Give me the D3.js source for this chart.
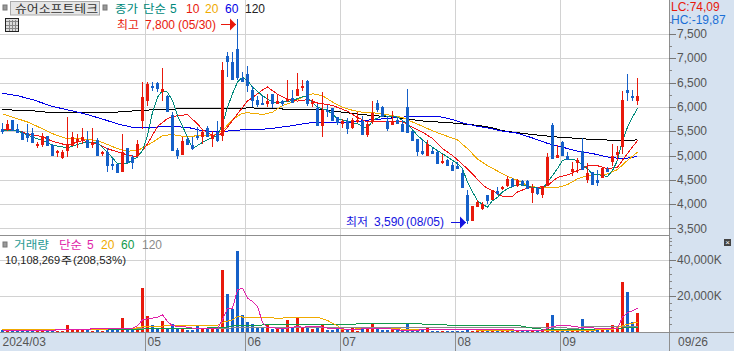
<!DOCTYPE html>
<html>
<head>
<meta charset="utf-8">
<script src="https://cdn.jsdelivr.net/npm/d3@7"></script>
<style>
html, body { margin: 0; padding: 0; background: #fff; }
svg { display: block; }
text { font-family: "Liberation Sans", sans-serif; font-size: 12px; }
.kr { font-family: "Noto Sans CJK KR", sans-serif; font-size: 11px; }
.axis .domain { display: none; }
.axis text { fill: #555; font-size: 12px; }
</style>
</head>
<body>
<div id="chart"></div>
<script>
// candles, left to right, one trading day each
const open = [5550,5540,5740,5540,5460,5460,5470,5200,5210,5400,5220,5050,4940,5100,5190,5270,5320,5310,5210,5310,5040,5070,4830,4820,4670,5150,4970,4990,5700,6130,6420,6500,6300,6230,5840,5120,5020,5330,5220,5410,5380,5560,5330,5480,5410,7040,6930,7200,6600,6670,6340,6150,6080,6060,6260,6060,6120,6150,6190,6230,6410,6540,6060,5980,5600,5940,5970,5790,5650,5720,5560,5700,5720,5430,5690,6080,5990,5710,5620,5740,5650,5990,5500,5330,5100,4990,5100,5070,4860,4900,4810,4780,4650,4180,3650,3950,3890,4180,4090,4270,4350,4380,4510,4370,4470,4470,4220,4340,4180,4380,5620,4940,5270,4980,4670,4840,5100,4490,4670,4490,4540,4730,4860,5010,5170,6340,6230,6130];
const close = [5480,5650,5500,5460,5320,5370,5250,5230,5410,5190,5000,5090,5070,5240,5390,5340,5390,5150,5270,5000,5070,4790,4810,4640,5080,4850,4840,5230,6210,6480,6390,6370,6370,5890,5100,4990,5290,5210,5140,5400,5490,5390,5410,5290,6750,6920,6560,6600,6510,6420,6130,6030,6060,6130,6050,6120,6060,6170,6080,6360,6420,6050,6100,5600,5940,5890,5720,5660,5700,5550,5730,5730,5430,5640,5880,5930,5800,5550,5700,5640,5480,5470,5290,5080,5040,5240,5040,4830,4880,4780,4690,4730,4340,3660,3970,4040,4010,4070,4280,4200,4360,4520,4350,4490,4400,4320,4340,4210,4380,4970,4920,5020,4990,4900,4730,4910,4710,4640,4400,4430,4750,4670,5000,5070,6150,6280,6200,6230];
const high = [5660,5730,5740,5650,5510,5640,5570,5270,5460,5400,5240,5120,5120,5800,5490,5450,5570,5500,5570,5360,5100,5150,4940,4820,5450,5160,5010,5310,6520,6520,6520,6510,6800,6250,5890,5150,5390,5390,5390,5580,5550,5600,5510,5720,6920,7130,7130,7800,6710,6850,6440,6230,6230,6270,6260,6270,6150,6560,6350,6700,6560,6560,6170,6060,6300,6030,5970,5790,5760,5780,5780,5890,5820,5720,6130,6150,6010,5820,5910,5800,5730,6370,5510,5330,5310,5310,5160,5120,5040,4930,4860,4860,4730,4290,3970,4090,4050,4180,4300,4360,4380,4570,4540,4510,4500,4500,4420,4360,4380,5060,5670,5210,5290,5070,4860,4950,5360,4840,4670,4710,4760,4760,5240,5190,6320,6670,6340,6590];
const low = [5450,5510,5500,5460,5310,5270,5250,5150,5170,5190,4980,4970,4930,4970,5190,5150,5240,5150,5160,5000,5000,4670,4710,4640,4670,4850,4730,4970,5540,6010,6320,6300,6130,5890,5100,4920,5020,5210,5120,5310,5230,5390,5170,5270,5290,6610,6560,6560,6510,6300,5990,5990,6030,5990,5980,6050,6010,6100,6080,6230,6320,6010,5990,5600,5380,5790,5710,5620,5570,5450,5550,5660,5430,5380,5650,5890,5790,5510,5620,5640,5480,5460,5290,5000,5020,4990,5040,4820,4830,4780,4680,4730,4340,3590,3650,3950,3870,4010,4090,4180,4280,4360,4350,4360,4380,4320,4020,4180,4120,4380,4920,4940,4990,4900,4570,4640,4710,4430,4400,4370,4540,4660,4780,4900,5040,6120,6120,6030];

// volume per day, in thousands of shares
const volume = [1100,900,1600,1200,1000,800,700,550,900,700,600,500,500,3700,900,700,600,700,500,600,550,800,600,700,7600,1300,700,1000,24200,8700,3700,1500,6100,1850,4100,1850,1500,900,900,3150,1300,1300,1300,1850,34200,20900,12600,44800,8900,5550,4260,2400,2200,3700,1500,1850,1500,6500,2200,7800,2200,2200,1500,2200,3700,900,900,1500,1300,1500,2200,550,1300,1500,4600,1850,900,900,1850,900,550,4260,900,900,900,1850,550,550,550,550,550,550,550,700,550,500,500,500,450,450,450,400,400,400,400,400,370,370,370,4600,9250,1300,1300,1300,1300,1300,7000,1300,1300,1300,1300,1300,3700,1300,27600,22000,5200,10108];

// price moving averages read at the day index next to them
const ma5Day = [0,3,6,8,10,13,16,19,21,23,25,27,28,29,30,31,32,33,34,35,37,38,40,42,43,44,45,46,47,48,49,50,52,54,56,58,60,61,63,65,67,69,71,73,74,76,79,81,83,85,87,89,91,92,93,94,95,96,97,98,99,100,101,102,103,105,106,108,109,110,111,112,113,115,116,117,118,119,121,122,123,124,125,126,127];
const ma5Val = [5510,5510,5380,5310,5210,5160,5260,5260,5070,4830,4840,4970,5100,5410,5890,6200,6340,6300,6130,5820,5380,5140,5270,5380,5410,5650,5990,6270,6510,6610,6540,6410,6230,6100,6100,6130,6210,6200,5990,5930,5760,5710,5650,5550,5720,5820,5790,5650,5410,5240,5100,4970,4830,4730,4450,4250,4070,3990,3940,4070,4140,4250,4320,4360,4400,4380,4340,4320,4450,4590,4730,4900,4930,4900,4790,4730,4620,4610,4570,4690,4900,5310,5580,5790,5970];
const ma10Day = [0,2,3,6,8,10,13,16,19,21,24,27,29,31,33,35,37,39,40,42,44,46,48,49,50,52,53,55,57,59,61,63,66,69,71,73,76,80,82,84,86,88,90,92,94,96,97,98,99,100,102,103,105,107,109,111,113,115,117,119,121,123,125,127];
const ma10Val = [5530,5530,5510,5420,5390,5290,5210,5310,5240,5140,5040,4970,5240,5600,5760,5820,5840,5650,5530,5410,5450,5720,5990,6120,6190,6350,6410,6260,6160,6120,6150,6080,6030,5910,5780,5690,5690,5700,5580,5480,5350,5140,5000,4820,4620,4400,4320,4280,4220,4160,4160,4250,4330,4340,4380,4550,4600,4690,4790,4790,4730,4760,5040,5310];
const ma20Day = [0,2,5,8,10,13,16,18,20,23,25,27,30,32,34,37,39,42,44,46,48,49,51,52,54,56,58,60,62,64,66,68,70,72,74,77,80,82,84,86,88,91,93,95,97,99,101,103,105,107,111,113,115,117,119,121,123,125,127];
const ma20Val = [5860,5790,5690,5550,5450,5340,5340,5320,5270,5140,5090,5100,5270,5410,5430,5380,5410,5410,5510,5740,5870,5880,5860,5840,5890,6030,6100,6200,6270,6230,6100,5990,5930,5890,5880,5840,5780,5690,5600,5510,5430,5320,5140,4930,4790,4680,4570,4490,4380,4340,4340,4400,4520,4590,4610,4620,4710,4900,5070];
const ma60Day = [0,3,6,10,13,16,20,23,26,29,33,37,40,43,46,48,49,51,54,57,60,63,66,69,71,74,77,80,83,87,90,92,95,97,100,103,106,109,112,115,118,121,124,127];
const ma60Val = [6280,6230,6150,6010,5940,5870,5750,5650,5580,5570,5600,5580,5510,5490,5510,5530,5530,5530,5560,5600,5650,5690,5670,5670,5700,5740,5760,5790,5810,5810,5740,5670,5600,5570,5500,5460,5360,5250,5170,5090,5040,4970,4930,4980];
const ma120Day = [0,5,10,21,28,32,36,48,49,54,57,64,68,72,78,84,90,95,98,100,106,111,118,123,127];
const ma120Val = [5940,5930,5880,5880,5930,5950,5960,5970,5980,5970,5950,5950,5890,5840,5790,5710,5670,5620,5570,5510,5430,5380,5330,5310,5320];

// volume moving averages
const volMa5Day = [0,5,12,23,26,27,28,29,31,32,33,34,36,39,43,44,45,46,47,48,49,50,51,52,53,55,57,59,60,63,65,68,70,72,75,77,79,81,84,87,92,97,102,105,108,109,110,112,113,114,116,122,123,124,125,126,127];
const volMa5Val = [550,550,900,1850,1850,3100,6500,7000,7950,9250,5550,3150,2800,1500,1500,6500,12950,12950,23100,24050,18500,16650,13900,5000,2200,1850,1850,2800,2400,3000,1850,1500,900,1500,1850,1700,900,550,900,900,900,900,900,370,550,1850,2800,3500,3500,2800,2200,1500,1700,8000,10500,11500,12800];
const volMa20Day = [0,26,28,33,43,44,46,47,49,56,57,59,63,65,67,68,71,78,80,92,105,122,123,124,125,127];
const volMa20Val = [900,1500,2600,3150,3500,5000,6500,8300,7800,7400,7950,7950,7950,6100,3150,900,1500,1850,1300,900,550,900,2200,3150,4000,5200];
const volMa60Day = [0,28,29,44,46,53,54,59,62,70,76,83,84,88,89,103,104,106,108,120,127];
const volMa60Val = [1300,1300,1700,2000,3150,3700,4100,4100,4100,4100,4600,4600,4070,4070,3500,3500,2800,1850,1300,1300,2400];
const volMa120Day = [0,24,40,49,100,111,115,116,127];
const volMa120Val = [900,1500,1500,2200,2200,2200,1650,2800,2800];

const monthStart = [0,29,49,68,91,112];
const monthLabel = ["2024/03","05","06","07","08","09"];
const priceTicks = [3500,4000,4500,5000,5500,6000,6500,7000,7500];
const volumeTicks = [20000,40000];

const W = 734, H = 351;
const plotRight = 669, volBase = 331.5;
const red = "#e8190c", blue = "#1560c8", lowBlue = "#1414e0";
const ma20Color = "#f0aa00", ma60Color = "#0000e6", teal = "#00897b";
const volMa5Color = "#e01fa8", volMa60Color = "#129a4a", volMa120Color = "#8a8a8a";

const svg = d3.select("#chart").append("svg").attr("width", W).attr("height", H);

const x = d3.scaleLinear().domain([0, 134]).range([0, 670]);
const y = d3.scaleLinear().domain([3500, 7500]).range([228.4, 34]);
const yVol = d3.scaleLinear().domain([0, 40000]).range([volBase, 259.5]);

// side and bottom panels
svg.append("rect").attr("x", plotRight).attr("y", 0).attr("width", W - plotRight).attr("height", H).attr("fill", "#d6e2f0");
svg.append("rect").attr("x", 0).attr("y", 333).attr("width", W).attr("height", H - 333).attr("fill", "#d6e2f0");

// grid
const grid = svg.append("g").attr("stroke", "#d2d2d2").attr("shape-rendering", "crispEdges");
grid.selectAll(".h").data(priceTicks).enter().append("line")
    .attr("x1", 0).attr("x2", plotRight)
    .attr("y1", d => Math.round(y(d)) + 0.5).attr("y2", d => Math.round(y(d)) + 0.5);
grid.selectAll(".hv").data([0].concat(volumeTicks)).enter().append("line")
    .attr("x1", 0).attr("x2", plotRight)
    .attr("y1", d => Math.round(yVol(d)) + 0.5).attr("y2", d => Math.round(yVol(d)) + 0.5);
grid.selectAll(".v").data(monthStart.slice(1)).enter().append("line")
    .attr("x1", d => x(d) + 0.5).attr("x2", d => x(d) + 0.5)
    .attr("y1", 0).attr("y2", 333);

// moving averages sit under the candles
function drawLine(days, values, scale, color) {
    const line = d3.line().x((d, i) => x(days[i] + 0.5)).y(d => scale(d));
    svg.append("path").attr("d", line(values))
        .attr("fill", "none").attr("stroke", color).attr("stroke-width", 1)
        .attr("shape-rendering", "crispEdges");
}
drawLine(ma120Day, ma120Val, y, "#000");
drawLine(ma60Day, ma60Val, y, ma60Color);
drawLine(ma20Day, ma20Val, y, ma20Color);
drawLine(ma10Day, ma10Val, y, "#f01414");
drawLine(ma5Day, ma5Val, y, teal);

// candles
const candles = svg.append("g").attr("shape-rendering", "crispEdges");
const colorOf = i => close[i] >= open[i] ? red : blue;
candles.selectAll(".wick").data(d3.range(open.length)).enter().append("rect")
    .attr("x", i => x(i) + 2).attr("width", 1)
    .attr("y", i => y(high[i])).attr("height", i => Math.max(1, y(low[i]) - y(high[i])))
    .attr("fill", colorOf);
candles.selectAll(".body").data(d3.range(open.length)).enter().append("rect")
    .attr("x", i => x(i) + 1).attr("width", 3)
    .attr("y", i => y(Math.max(open[i], close[i])))
    .attr("height", i => Math.max(2, Math.abs(y(open[i]) - y(close[i]))))
    .attr("fill", colorOf);

// volume bars
svg.append("g").attr("shape-rendering", "crispEdges")
    .selectAll("rect").data(volume).enter().append("rect")
    .attr("x", (d, i) => x(i) + 1).attr("width", 3)
    .attr("y", d => yVol(d)).attr("height", d => volBase - yVol(d))
    .attr("fill", (d, i) => colorOf(i));

drawLine(volMa120Day, volMa120Val, yVol, volMa120Color);
drawLine(volMa60Day, volMa60Val, yVol, volMa60Color);
drawLine(volMa20Day, volMa20Val, yVol, ma20Color);
drawLine(volMa5Day, volMa5Val, yVol, volMa5Color);

// pane borders
const border = svg.append("g").attr("stroke", "#8f8f8f").attr("shape-rendering", "crispEdges");
border.append("line").attr("x1", 0).attr("x2", plotRight).attr("y1", 235.5).attr("y2", 235.5);
border.append("line").attr("x1", 0).attr("x2", W).attr("y1", 332.5).attr("y2", 332.5);
border.append("line").attr("x1", 669.5).attr("x2", 669.5).attr("y1", 0).attr("y2", H);

// right axes
const axisPrice = d3.axisRight(y).tickValues(priceTicks).tickSize(7).tickPadding(1).tickFormat(d3.format(","));
svg.append("g").attr("class", "axis").attr("transform", `translate(${plotRight},0)`).call(axisPrice);
const axisVol = d3.axisRight(yVol).tickValues(volumeTicks).tickSize(7).tickPadding(1).tickFormat(d => d3.format(",")(d) + "K");
svg.append("g").attr("class", "axis").attr("transform", `translate(${plotRight},0)`).call(axisVol);
svg.selectAll(".axis .tick line").attr("stroke", "#777").attr("shape-rendering", "crispEdges");
svg.selectAll(".axis .tick text").attr("dy", "0.3em");

// minor ticks between the labelled ones
const minor = svg.append("g").attr("stroke", "#888").attr("shape-rendering", "crispEdges");
minor.selectAll(".mp").data(d3.range(3250, 7800, 500)).enter().append("line")
    .attr("x1", plotRight).attr("x2", plotRight + 3)
    .attr("y1", d => Math.round(y(d)) + 0.5).attr("y2", d => Math.round(y(d)) + 0.5);
minor.selectAll(".mv").data(d3.range(0, 53000, 4000).filter(d => d % 20000 != 0 || d == 0)).enter().append("line")
    .attr("x1", plotRight).attr("x2", plotRight + 3)
    .attr("y1", d => Math.round(yVol(d)) + 0.5).attr("y2", d => Math.round(yVol(d)) + 0.5);

// month axis
const axisX = d3.axisBottom(x).tickValues(monthStart).tickSize(18).tickFormat((d, i) => monthLabel[i]);
const gx = svg.append("g").attr("class", "axis").attr("transform", "translate(0,333)").call(axisX);
gx.selectAll(".tick line").attr("stroke", "#8f8f8f");
gx.selectAll(".tick text").attr("text-anchor", "start").attr("x", 2).attr("y", 13).attr("dy", 0);
gx.select(".tick line").remove();

function label(px, py, txt, color, cls) {
    return svg.append("text").attr("x", px).attr("y", py).attr("fill", color).attr("class", cls || null).text(txt);
}
// hangul runs wide in the original, so stretch it to the width it has there
function krLabel(px, py, txt, color, width) {
    return label(px, py, txt, color, "kr").attr("textLength", width).attr("lengthAdjust", "spacingAndGlyphs");
}

label(678, 346, "09/26", "#555");

// header row
svg.append("rect").attr("x", 3).attr("y", 5).attr("width", 4).attr("height", 5).attr("fill", "#999").attr("stroke", "#777");
svg.append("rect").attr("x", 10.5).attr("y", 1.5).attr("width", 89).attr("height", 13.5).attr("fill", "#e6e6e6").attr("stroke", "#aaa");
svg.append("rect").attr("x", 103).attr("y", 5).attr("width", 4).attr("height", 5).attr("fill", "#999").attr("stroke", "#777");
krLabel(15, 13, "슈어소프트테크", "#333", 83);
krLabel(115, 13, "종가", teal, 23);
krLabel(143, 13, "단순", teal, 23);
label(170, 13, "5", teal);
label(186, 13, "10", red);
label(205, 13, "20", ma20Color);
label(225, 13, "60", ma60Color);
label(245, 13, "120", "#222");

// calendar icon
const icon = svg.append("g").attr("shape-rendering", "crispEdges");
icon.append("rect").attr("x", 5.5).attr("y", 18.5).attr("width", 13).attr("height", 13).attr("fill", "#ddd").attr("stroke", "#222");
icon.selectAll(".c").data([9.5, 12.5, 15.5]).enter().append("line")
    .attr("x1", d => d).attr("x2", d => d).attr("y1", 20).attr("y2", 31).attr("stroke", "#888");
icon.selectAll(".r").data([21.5, 25.5, 28.5]).enter().append("line")
    .attr("x1", 6).attr("x2", 18).attr("y1", d => d).attr("y2", d => d).attr("stroke", "#888");

// high and low notes
krLabel(117, 29, "최고", red, 22);
label(145, 29, "7,800", red);
label(178, 29, "(05/30)", red);
krLabel(346, 226, "최저", lowBlue, 22);
label(374, 226, "3,590", lowBlue);
label(406, 226, "(08/05)", lowBlue);
function arrow(x0, x1, ay, color) {
    svg.append("line").attr("x1", x0).attr("x2", x1).attr("y1", ay).attr("y2", ay).attr("stroke", color).attr("stroke-width", 1);
    svg.append("path").attr("d", d3.line()([[x1 - 6, ay - 6], [x1, ay], [x1 - 6, ay + 6]])).attr("fill", color);
}
arrow(221, 236, 24.5, red);
arrow(451, 466, 222.5, lowBlue);

// top right
label(671, 11, "LC:74,09", red);
label(671, 23.5, "HC:-19,87", "#1a6fd6");

// volume header
svg.append("rect").attr("x", 3).attr("y", 242).attr("width", 4).attr("height", 5).attr("fill", "#999").attr("stroke", "#777");
krLabel(14, 248.5, "거래량", "#2a9a94", 35);
krLabel(59, 248.5, "단순", volMa5Color, 23);
label(87, 248.5, "5", volMa5Color);
label(101, 248.5, "20", ma20Color);
label(121, 248.5, "60", volMa60Color);
label(142, 248.5, "120", volMa120Color);
label(5, 263.5, "10,108,269", "#222").style("font-size", "11px");
krLabel(61, 263.5, "주", "#222", 11).style("font-size", "10px");
label(73, 263.5, "(208,53%)", "#222").style("font-size", "11px")
    .attr("textLength", 53).attr("lengthAdjust", "spacingAndGlyphs");

// close button on the volume pane
svg.append("rect").attr("x", 724).attr("y", 239).attr("width", 7).attr("height", 7).attr("fill", "#444");
svg.append("text").attr("x", 727.5).attr("y", 245).attr("text-anchor", "middle").attr("fill", "#fff").style("font-size", "8px").text("×");
</script>
</body>
</html>
